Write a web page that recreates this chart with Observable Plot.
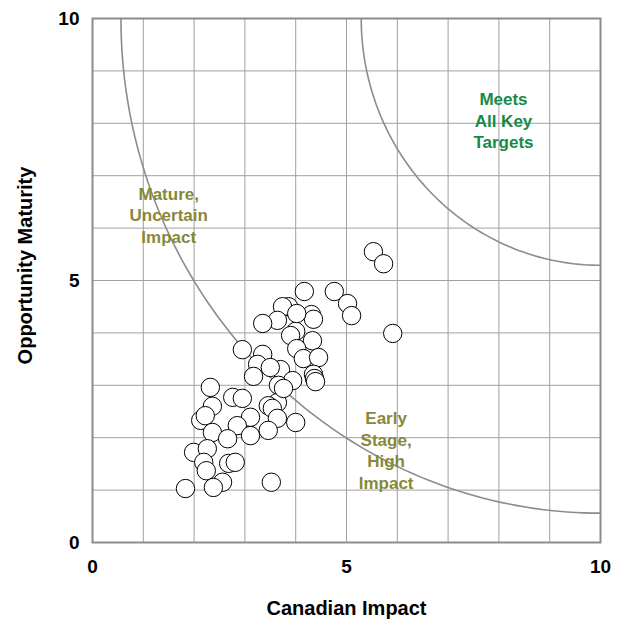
<!DOCTYPE html>
<html>
<head>
<meta charset="utf-8">
<script src="https://cdn.jsdelivr.net/npm/d3@7"></script>
<script src="https://cdn.jsdelivr.net/npm/@observablehq/plot@0.6"></script>
<style>
  body { margin: 0; background: #fff; }
</style>
</head>
<body>
<div id="chart"></div>
<script>
// Opportunities: Canadian Impact (x) vs Opportunity Maturity (y)
const impact = [
  5.53, 5.73, 5.91, 4.76, 5.02, 5.10, 4.17, 3.86, 3.74, 3.64,
  3.35, 4.31, 4.35, 4.00, 3.90, 4.33, 4.02, 4.15, 4.45, 2.95,
  3.35, 3.25, 3.70, 3.50, 3.17, 3.94, 3.66, 4.35, 4.37, 4.39,
  2.32, 2.76, 2.95, 3.64, 3.46, 2.36, 3.54, 3.64, 3.11, 2.85,
  2.13, 2.22, 2.36, 2.66, 3.11, 3.46, 4.00, 1.99, 2.26, 2.19,
  2.24, 2.68, 2.81, 2.56, 2.38, 1.83, 3.52, 4.02, 3.76
];
const maturity = [
  5.55, 5.32, 3.99, 4.79, 4.56, 4.33, 4.79, 4.50, 4.50, 4.24,
  4.18, 4.35, 4.26, 4.03, 3.95, 3.85, 3.70, 3.51, 3.53, 3.68,
  3.59, 3.40, 3.30, 3.34, 3.17, 3.09, 3.00, 3.21, 3.13, 3.07,
  2.96, 2.77, 2.75, 2.67, 2.61, 2.60, 2.56, 2.37, 2.39, 2.23,
  2.33, 2.42, 2.10, 1.98, 2.04, 2.14, 2.29, 1.72, 1.79, 1.53,
  1.37, 1.51, 1.53, 1.15, 1.05, 1.03, 1.15, 4.37, 2.94
];

// Threshold arcs: radii of quarter circles centred on the top-right corner (10, 10)
const arcCenter = [10, 10];
const arcRadii = [4.71, 9.44];

// Zone labels
const zoneText = ["Meets\nAll Key\nTargets", "Mature,\nUncertain\nImpact", "Early\nStage,\nHigh\nImpact"];
const zoneX = [8.09, 1.50, 5.78];
const zoneY = [8.07, 6.26, 1.77];
const zoneColor = ["#168a46", "#878838", "#878838"];

const axisTicks = [0, 5, 10];
const gridTicks = [0, 1, 2, 3, 4, 5, 6, 7, 8, 9, 10];

const points = impact.map((x, i) => ({x, y: maturity[i]}));
const zones = zoneText.map((t, i) => ({text: t, x: zoneX[i], y: zoneY[i], color: zoneColor[i]}));
const arcs = [];
arcRadii.forEach(r => {
  for (let k = 0; k <= 90; k++) {
    const t = (k / 90) * Math.PI / 2;
    arcs.push({r, x: arcCenter[0] - r * Math.cos(t), y: arcCenter[1] - r * Math.sin(t)});
  }
});

const chart = Plot.plot({
  width: 620,
  height: 620,
  marginLeft: 92,
  marginRight: 20,
  marginTop: 18,
  marginBottom: 78,
  style: {fontFamily: "'Liberation Sans', Arial, sans-serif", background: "#fff", color: "#000"},
  x: {domain: [0, 10]},
  y: {domain: [0, 10]},
  marks: [
    Plot.gridX(gridTicks, {stroke: "#a0a0a0", strokeOpacity: 1, strokeWidth: 1}),
    Plot.gridY(gridTicks, {stroke: "#a0a0a0", strokeOpacity: 1, strokeWidth: 1}),
    Plot.frame({stroke: "#8c8c8c", strokeWidth: 2}),
    Plot.axisX(axisTicks, {tickSize: 0, tickPadding: 17, fontSize: 19, fontWeight: "bold", label: null, tickFormat: d => String(d)}),
    Plot.axisY(axisTicks, {tickSize: 0, tickPadding: 13, fontSize: 19, fontWeight: "bold", label: null, tickFormat: d => String(d)}),
    Plot.line(arcs, {x: "x", y: "y", z: "r", stroke: "#8c8c8c", strokeWidth: 1.6}),
    Plot.text(zones, {x: "x", y: "y", text: "text", fill: "color", fontSize: 17, fontWeight: "bold", lineHeight: 1.27}),
    Plot.dot(points, {x: "x", y: "y", r: 9.2, fill: "white", stroke: "black", strokeWidth: 1}),
    Plot.text(["Canadian Impact"], {frameAnchor: "bottom", textAnchor: "middle", lineAnchor: "middle", dy: 66, fontSize: 20, fontWeight: "bold"}),
    Plot.text(["Opportunity Maturity"], {frameAnchor: "left", textAnchor: "middle", lineAnchor: "middle", rotate: -90, dx: -67, dy: -15, fontSize: 20, fontWeight: "bold"})
  ]
});
document.getElementById("chart").appendChild(chart);
</script>
</body>
</html>
